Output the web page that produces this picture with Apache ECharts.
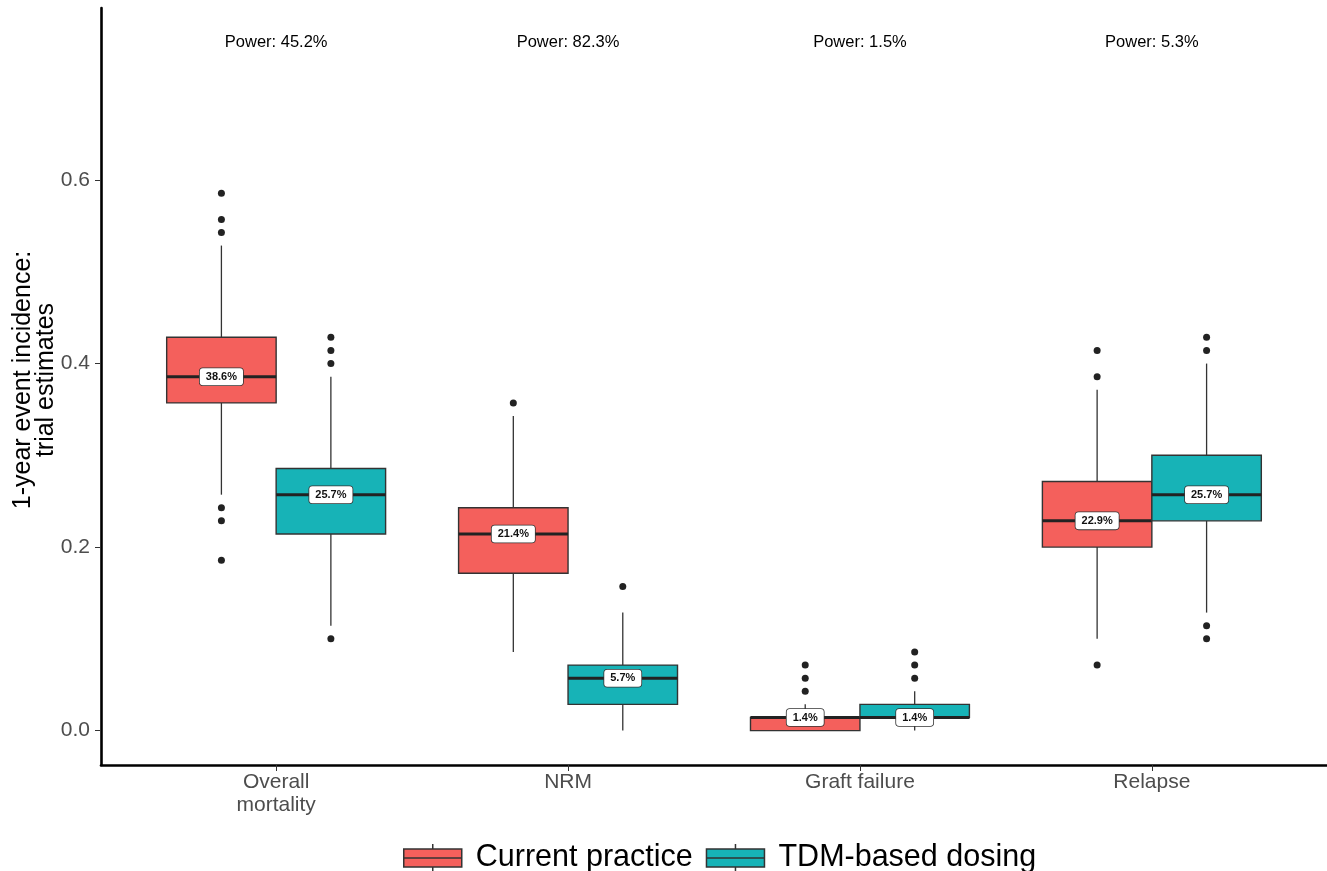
<!DOCTYPE html>
<html>
<head>
<meta charset="utf-8">
<script src="https://cdn.jsdelivr.net/npm/echarts@6/dist/echarts.min.js"></script>
<style>
  html, body { margin: 0; padding: 0; background: #fff; }
  #chart { width: 1327px; height: 871px; }
</style>
</head>
<body>
<div id="chart"></div>
<script>
// Outcome categories along the x axis
const categories = ['Overall\nmortality', 'NRM', 'Graft failure', 'Relapse'];
const powerLabels = ['Power: 45.2%', 'Power: 82.3%', 'Power: 1.5%', 'Power: 5.3%'];
const groups = ['Current practice', 'TDM-based dosing'];
const yTicks = [0, 0.2, 0.4, 0.6];

// Box summaries per category: [lower whisker, Q1, median, Q3, upper whisker]
const currentBoxes = [
  [0.2571, 0.3571, 0.3857, 0.4286, 0.5286],
  [0.0857, 0.1714, 0.2143, 0.2429, 0.3429],
  [0.0000, 0.0000, 0.0143, 0.0143, 0.0286],
  [0.1000, 0.2000, 0.2286, 0.2714, 0.3714]
];
const tdmBoxes = [
  [0.1143, 0.2143, 0.2571, 0.2857, 0.3857],
  [0.0000, 0.0286, 0.0571, 0.0714, 0.1286],
  [0.0000, 0.0143, 0.0143, 0.0286, 0.0429],
  [0.1286, 0.2286, 0.2571, 0.3000, 0.4000]
];

// Outlying trial estimates per category
const currentOutliers = [
  [0.5857, 0.5571, 0.5429, 0.2429, 0.2286, 0.1857],
  [0.3571],
  [0.0429, 0.0571, 0.0714],
  [0.3857, 0.4143, 0.0714]
];
const tdmOutliers = [
  [0.4000, 0.4143, 0.4286, 0.1000],
  [0.1571],
  [0.0571, 0.0714, 0.0857],
  [0.4143, 0.4286, 0.1143, 0.1000]
];

// Layout and style constants
const FONT = '"Liberation Sans", Arial, Helvetica, sans-serif';
const COLORS = ['#F4605C', '#17B3B7'];
const OUTLINE = '#333333';
const BOX_WIDTH = 0.375;        // width of one dodged box, in category units
const DODGE = BOX_WIDTH / 2;    // centre offset of each box from its category
const POWER_Y = 0.75;           // height of the power annotations

function boxRenderer(offset, fill) {
  return function (params, api) {
    const x = api.value(0) + offset;
    const lo = api.coord([x, api.value(1)]);
    const q1 = api.coord([x, api.value(2)]);
    const md = api.coord([x, api.value(3)]);
    const q3 = api.coord([x, api.value(4)]);
    const hi = api.coord([x, api.value(5)]);
    const half = api.size([BOX_WIDTH, 0])[0] / 2;
    const cx = md[0];
    const pct = (api.value(3) * 100).toFixed(1) + '%';
    return {
      type: 'group',
      children: [
        { type: 'line', shape: { x1: cx, y1: hi[1], x2: cx, y2: q3[1] },
          style: { stroke: OUTLINE, lineWidth: 1.3 } },
        { type: 'line', shape: { x1: cx, y1: q1[1], x2: cx, y2: lo[1] },
          style: { stroke: OUTLINE, lineWidth: 1.3 } },
        { type: 'rect', shape: { x: cx - half, y: q3[1], width: half * 2, height: q1[1] - q3[1] },
          style: { fill: fill, stroke: OUTLINE, lineWidth: 1.4 } },
        { type: 'line', shape: { x1: cx - half, y1: md[1], x2: cx + half, y2: md[1] },
          style: { stroke: '#222', lineWidth: 3 } },
        { type: 'text', x: cx, y: md[1], z2: 10,
          style: {
            text: pct, fill: '#111',
            fontSize: 11, fontWeight: 'bold', fontFamily: FONT,
            align: 'center', verticalAlign: 'middle',
            textAlign: 'center', textVerticalAlign: 'middle',
            backgroundColor: '#fff', borderColor: '#333', borderWidth: 0.8,
            borderRadius: 3, padding: [3, 6, 3, 6]
          } }
      ]
    };
  };
}

function powerRenderer(params, api) {
  const p = api.coord([api.value(0), POWER_Y]);
  return {
    type: 'text', x: p[0], y: p[1],
    style: {
      text: powerLabels[params.dataIndex], fill: '#000',
      fontSize: 16.5, fontFamily: FONT,
      align: 'center', verticalAlign: 'middle',
      textAlign: 'center', textVerticalAlign: 'middle'
    }
  };
}

// Legend key: box with median bar and short whisker stubs
const boxIcon = 'path://M29,0L29,5M0,5L58,5L58,23L0,23ZM0,14L58,14M29,23L29,28';

const option = {
  animation: false,
  backgroundColor: '#fff',
  grid: { left: 101, right: 0, top: 8, bottom: 106 },
  xAxis: {
    type: 'value', min: 0.4, max: 4.6,
    splitLine: { show: false },
    axisLine: { show: true, onZero: false, lineStyle: { color: '#000', width: 2.6 } },
    axisTick: { show: true, customValues: [1, 2, 3, 4], length: 6, lineStyle: { color: '#333', width: 1 } },
    axisLabel: {
      customValues: [1, 2, 3, 4],
      formatter: v => categories[Math.round(v) - 1],
      fontSize: 21, lineHeight: 23, color: '#4d4d4d', fontFamily: FONT, margin: 6
    }
  },
  yAxis: {
    type: 'value', min: -0.0375, max: 0.7875,
    splitLine: { show: false },
    axisLine: { show: true, onZero: false, lineStyle: { color: '#000', width: 2.6 } },
    axisTick: { show: true, customValues: yTicks, length: 6, lineStyle: { color: '#333', width: 1 } },
    axisLabel: {
      customValues: yTicks,
      formatter: v => v.toFixed(1),
      fontSize: 21, color: '#4d4d4d', fontFamily: FONT, margin: 11
    }
  },
  graphic: [{
    type: 'text', x: 35, y: 380, rotation: Math.PI / 2,
    style: {
      text: '1-year event incidence:\ntrial estimates',
      fill: '#000', fontSize: 25, lineHeight: 23, fontFamily: FONT,
      align: 'center', verticalAlign: 'middle',
      textAlign: 'center', textVerticalAlign: 'middle'
    }
  }],
  legend: {
    left: 398, top: 836,
    itemWidth: 58, itemHeight: 28, itemGap: 13,
    textStyle: { fontSize: 30.5, lineHeight: 34, color: '#000', fontFamily: FONT, padding: [0, 0, 0, 9] },
    data: groups.map((g, i) => ({
      name: g, icon: boxIcon,
      itemStyle: { color: COLORS[i], borderColor: OUTLINE, borderWidth: 1.5 }
    }))
  },
  series: [
    {
      name: groups[0], type: 'custom', z: 2,
      itemStyle: { color: COLORS[0] },
      renderItem: boxRenderer(-DODGE, COLORS[0]),
      encode: { x: 0, y: [1, 2, 3, 4, 5] },
      data: currentBoxes.map((b, i) => [i + 1].concat(b))
    },
    {
      name: groups[1], type: 'custom', z: 2,
      itemStyle: { color: COLORS[1] },
      renderItem: boxRenderer(DODGE, COLORS[1]),
      encode: { x: 0, y: [1, 2, 3, 4, 5] },
      data: tdmBoxes.map((b, i) => [i + 1].concat(b))
    },
    {
      type: 'scatter', z: 3, symbolSize: 7,
      itemStyle: { color: '#222', opacity: 1 },
      data: currentOutliers.flatMap((arr, i) => arr.map(v => [i + 1 - DODGE, v]))
    },
    {
      type: 'scatter', z: 3, symbolSize: 7,
      itemStyle: { color: '#222', opacity: 1 },
      data: tdmOutliers.flatMap((arr, i) => arr.map(v => [i + 1 + DODGE, v]))
    },
    {
      type: 'custom', z: 4,
      renderItem: powerRenderer,
      encode: { x: 0 },
      data: powerLabels.map((_, i) => [i + 1])
    }
  ]
};

const chart = echarts.init(document.getElementById('chart'), null, { renderer: 'canvas' });
chart.setOption(option);
</script>
</body>
</html>
